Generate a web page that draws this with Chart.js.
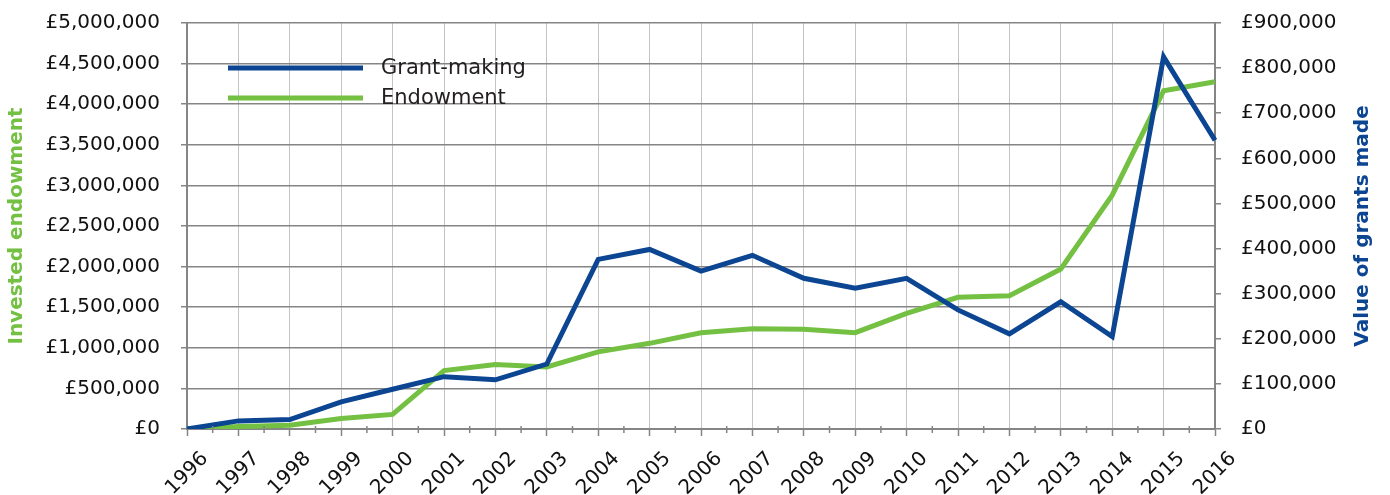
<!DOCTYPE html>
<html>
<head>
<meta charset="utf-8">
<script src="https://cdn.jsdelivr.net/npm/chart.js@4/dist/chart.umd.min.js"></script>
<style>
  html, body { margin: 0; padding: 0; background: #ffffff; }
  #wrap { width: 1390px; height: 495px; position: relative; }
</style>
</head>
<body>
<div id="wrap"><canvas id="c" width="1390" height="495"></canvas></div>
<script>
const years = ['1996','1997','1998','1999','2000','2001','2002','2003','2004','2005','2006','2007','2008','2009','2010','2011','2012','2013','2014','2015','2016'];
const grantMaking = [0, 18000, 21000, 60000, 88000, 116000, 109000, 144000, 376000, 398000, 350000, 385000, 334000, 312000, 334000, 264000, 211000, 282000, 205000, 825000, 640000];
const endowment = [0, 30000, 45000, 130000, 180000, 720000, 795000, 765000, 950000, 1055000, 1186000, 1235000, 1228000, 1186000, 1425000, 1622000, 1642000, 1970000, 2880000, 4165000, 4277000];
const leftTitle = 'Invested endowment';
const rightTitle = 'Value of grants made';
const seriesNames = ['Grant-making', 'Endowment'];

const BLUE = '#0c4592';
const GREEN = '#74c043';
const AXIS = '#858585';
const FONT = "'DejaVu Sans', Verdana, sans-serif";

function gbp(v) { return '£' + Number(v).toLocaleString('en-GB'); }
function noPad(s) { s.paddingTop = 0; s.paddingBottom = 0; s.paddingLeft = 0; s.paddingRight = 0; }

const extras = {
  id: 'extras',
  afterDraw(chart) {
    const ctx = chart.ctx;
    const a = chart.chartArea;
    const x = chart.scales.x;
    // minor x ticks
    ctx.save();
    ctx.strokeStyle = AXIS;
    ctx.lineWidth = 1.5;
    for (let i = 0; i < years.length - 1; i++) {
      const px = (x.getPixelForValue(i) + x.getPixelForValue(i + 1)) / 2;
      ctx.beginPath();
      ctx.moveTo(px, a.bottom - 3);
      ctx.lineTo(px, a.bottom + 4);
      ctx.stroke();
    }
    ctx.restore();
    // axis titles
    const cy = (a.top + a.bottom) / 2;
    ctx.save();
    ctx.font = "bold 20px " + FONT;
    ctx.textAlign = 'center';
    ctx.textBaseline = 'middle';
    ctx.fillStyle = GREEN;
    ctx.translate(17, cy);
    ctx.rotate(-Math.PI / 2);
    ctx.fillText(leftTitle, 0, 0);
    ctx.restore();
    ctx.save();
    ctx.font = "bold 20px " + FONT;
    ctx.textAlign = 'center';
    ctx.textBaseline = 'middle';
    ctx.fillStyle = BLUE;
    ctx.translate(1363, cy);
    ctx.rotate(-Math.PI / 2);
    ctx.fillText(rightTitle, 0, 0);
    ctx.restore();
    // legend
    ctx.save();
    const lx = a.left + 41, ly = a.top + 45;
    const colors = [BLUE, GREEN];
    ctx.font = "21px " + FONT;
    ctx.textBaseline = 'middle';
    ctx.textAlign = 'left';
    for (let i = 0; i < seriesNames.length; i++) {
      const yy = ly + i * 30;
      ctx.strokeStyle = colors[i];
      ctx.lineWidth = 5;
      ctx.beginPath();
      ctx.moveTo(lx, yy);
      ctx.lineTo(lx + 135, yy);
      ctx.stroke();
      ctx.fillStyle = '#231f20';
      ctx.fillText(seriesNames[i], lx + 153, yy + 1);
    }
    ctx.restore();
  }
};

new Chart(document.getElementById('c'), {
  type: 'line',
  data: {
    labels: years,
    datasets: [
      { label: seriesNames[0], data: grantMaking, yAxisID: 'y2', borderColor: BLUE, backgroundColor: BLUE, borderWidth: 5, pointRadius: 0, tension: 0, borderJoinStyle: 'miter', borderCapStyle: 'butt' },
      { label: seriesNames[1], data: endowment, yAxisID: 'y', borderColor: GREEN, backgroundColor: GREEN, borderWidth: 5, pointRadius: 0, tension: 0, borderJoinStyle: 'miter', borderCapStyle: 'butt' }
    ]
  },
  options: {
    responsive: false,
    animation: false,
    devicePixelRatio: 1,
    layout: { padding: { top: 23, left: 0, right: 0, bottom: 0 } },
    plugins: { legend: { display: false }, tooltip: { enabled: false } },
    scales: {
      x: {
        type: 'category',
        offset: false,
        afterFit(s) { s.height = 66; noPad(s); },
        border: { color: AXIS, width: 2 },
        grid: { color: '#c4c4c4', lineWidth: 1, borderDash: [2, 2], tickColor: AXIS, tickBorderDash: [], tickLength: 7, tickWidth: 1.5, drawTicks: true },
        ticks: { color: '#111', font: { family: FONT, size: 20 }, maxRotation: 45, minRotation: 45, padding: 11, labelOffset: 18, autoSkip: false }
      },
      y: {
        position: 'left',
        min: 0, max: 5000000,
        afterFit(s) { s.width = 187; noPad(s); },
        border: { color: AXIS, width: 2 },
        grid: { color: AXIS, lineWidth: 1.5, tickLength: 6 },
        ticks: { stepSize: 500000, color: '#111', font: { family: FONT, size: 20 }, padding: 21, callback: v => gbp(v) }
      },
      y2: {
        position: 'right',
        min: 0, max: 900000,
        afterFit(s) { s.width = 175; noPad(s); },
        border: { color: AXIS, width: 2 },
        grid: { drawOnChartArea: false, color: AXIS, lineWidth: 1.5, tickLength: 6 },
        ticks: { stepSize: 100000, color: '#111', font: { family: FONT, size: 20 }, padding: 20, callback: v => gbp(v) }
      }
    }
  },
  plugins: [extras]
});
</script>
</body>
</html>
